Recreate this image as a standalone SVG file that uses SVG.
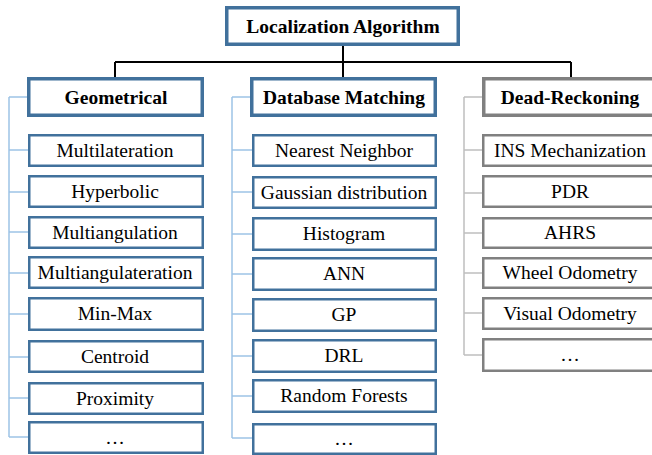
<svg xmlns="http://www.w3.org/2000/svg" width="652" height="455" viewBox="0 0 652 455">
<style>
  .t { font-family: "Liberation Serif", "Times New Roman", serif; font-size: 19.5px; fill: #000; text-anchor: middle; }
  .b { font-weight: bold; }
  .hb { fill: #fff; stroke: #41719C; stroke-width: 3.5; }
  .hg { fill: #fff; stroke: #808080; stroke-width: 3.5; }
  .lb { fill: #fff; stroke: #41719C; stroke-width: 2.5; }
  .lg { fill: #fff; stroke: #808080; stroke-width: 2.5; }
  .con { fill: none; stroke: #000; stroke-width: 2; }
  .brb { fill: none; stroke: #9DC3E6; stroke-width: 1.5; }
  .brg { fill: none; stroke: #BFBFBF; stroke-width: 1.5; }
</style>
<rect width="652" height="455" fill="#fff"/>
<g id="connectors">
  <path class="con" d="M343,46 V62 M115,62 H571 M115,62 V78 M343,62 V78 M571,62 V78"/>
  <path class="brb" d="M9,97 V437 M9,97 H28 M9,150 H29 M9,192 H29 M9,232 H29 M9,273 H29 M9,314 H29 M9,357 H29 M9,398 H29 M9,437 H29"/>
  <path class="brb" d="M232,97 V438 M232,97 H251 M232,150 H252 M232,192 H252 M232,234 H252 M232,274 H252 M232,314 H252 M232,356 H252 M232,396 H252 M232,438 H252"/>
  <path class="brg" d="M464,97 V355 M464,97 H483 M464,150 H483 M464,193 H483 M464,233 H483 M464,273 H483 M464,313 H483 M464,355 H483"/>
</g>
<g id="root">
  <rect class="hb" x="226.75" y="7.75" width="231.5" height="36.5"/>
  <text class="t b" x="343" y="33">Localization Algorithm</text>
</g>
<g id="geometrical">
  <rect class="hb" x="28.75" y="78.75" width="173.5" height="36.5"/>
  <text class="t b" x="116" y="104">Geometrical</text>
</g>
<g id="database">
  <rect class="hb" x="251.75" y="78.75" width="183.5" height="36.5"/>
  <text class="t b" x="344" y="104">Database Matching</text>
</g>
<g id="deadreckoning">
  <rect class="hg" x="483.75" y="78.75" width="174" height="36.5"/>
  <text class="t b" x="570" y="104">Dead-Reckoning</text>
</g>
<g id="g1"><rect class="lb" x="29.25" y="135.25" width="173.5" height="30.5"/><text class="t" x="115" y="157">Multilateration</text></g>
<g id="g2"><rect class="lb" x="29.25" y="176.25" width="173.5" height="30.5"/><text class="t" x="115" y="198">Hyperbolic</text></g>
<g id="g3"><rect class="lb" x="29.25" y="217.25" width="173.5" height="30.5"/><text class="t" x="115" y="239">Multiangulation</text></g>
<g id="g4"><rect class="lb" x="29.25" y="257.25" width="173.5" height="30.5"/><text class="t" x="115" y="279">Multiangulateration</text></g>
<g id="g5"><rect class="lb" x="29.25" y="298.25" width="173.5" height="31.5"/><text class="t" x="115" y="320">Min-Max</text></g>
<g id="g6"><rect class="lb" x="29.25" y="341.25" width="173.5" height="30.5"/><text class="t" x="115" y="363">Centroid</text></g>
<g id="g7"><rect class="lb" x="29.25" y="383.25" width="173.5" height="30.5"/><text class="t" x="115" y="405">Proximity</text></g>
<g id="g8"><rect class="lb" x="29.25" y="422.25" width="173.5" height="30.5"/><text class="t" x="115" y="444">…</text></g>
<g id="d1"><rect class="lb" x="253.25" y="135.25" width="182.5" height="30.5"/><text class="t" x="344" y="157">Nearest Neighbor</text></g>
<g id="d2"><rect class="lb" x="253.25" y="177.25" width="182.5" height="30.5"/><text class="t" x="344" y="199">Gaussian distribution</text></g>
<g id="d3"><rect class="lb" x="253.25" y="218.25" width="182.5" height="31.5"/><text class="t" x="344" y="240">Histogram</text></g>
<g id="d4"><rect class="lb" x="253.25" y="258.25" width="182.5" height="31.5"/><text class="t" x="344" y="280">ANN</text></g>
<g id="d5"><rect class="lb" x="253.25" y="299.25" width="182.5" height="31.5"/><text class="t" x="344" y="321">GP</text></g>
<g id="d6"><rect class="lb" x="253.25" y="340.25" width="182.5" height="31.5"/><text class="t" x="344" y="362">DRL</text></g>
<g id="d7"><rect class="lb" x="253.25" y="380.25" width="182.5" height="31.5"/><text class="t" x="344" y="402">Random Forests</text></g>
<g id="d8"><rect class="lb" x="253.25" y="424.25" width="182.5" height="29.5"/><text class="t" x="344" y="445">…</text></g>
<g id="r1"><rect class="lg" x="483.25" y="135.25" width="175" height="30.5"/><text class="t" x="570" y="157">INS Mechanization</text></g>
<g id="r2"><rect class="lg" x="483.25" y="176.25" width="175" height="30.5"/><text class="t" x="570" y="198">PDR</text></g>
<g id="r3"><rect class="lg" x="483.25" y="218.25" width="175" height="29.5"/><text class="t" x="570" y="239">AHRS</text></g>
<g id="r4"><rect class="lg" x="483.25" y="258.25" width="175" height="29.5"/><text class="t" x="570" y="279">Wheel Odometry</text></g>
<g id="r5"><rect class="lg" x="483.25" y="298.25" width="175" height="30.5"/><text class="t" x="570" y="320">Visual Odometry</text></g>
<g id="r6"><rect class="lg" x="483.25" y="339.25" width="175" height="31.5"/><text class="t" x="570" y="361">…</text></g>
</svg>
